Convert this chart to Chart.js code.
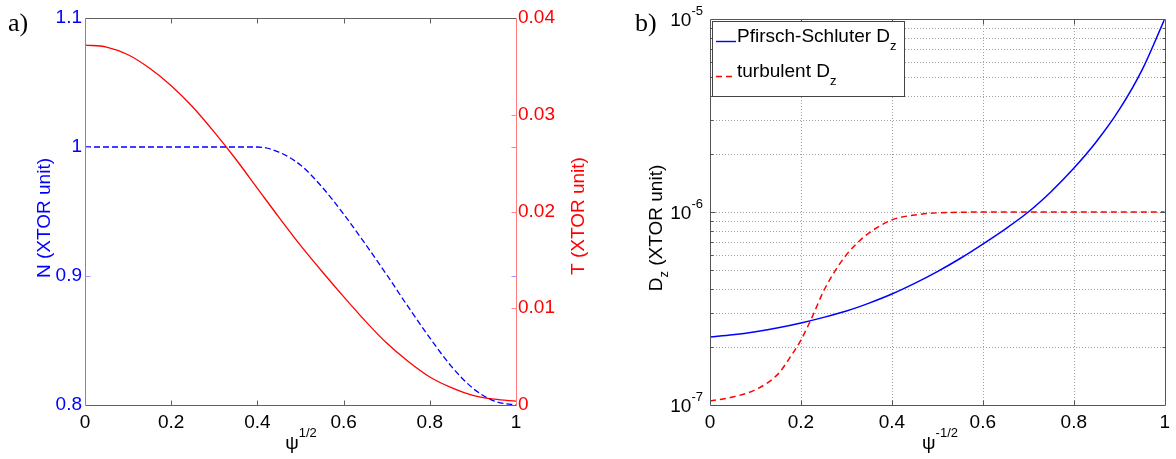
<!DOCTYPE html>
<html>
<head>
<meta charset="utf-8">
<script src="https://cdn.jsdelivr.net/npm/chart.js@4.4.1/dist/chart.umd.min.js"></script>
<style>
html,body{margin:0;padding:0;background:#fff;}
#wrap{position:relative;width:1176px;height:459px;overflow:hidden;background:#fff;}
#ca{position:absolute;left:0;top:0;}
#cb{position:absolute;left:590px;top:0;}
</style>
</head>
<body>
<div id="wrap">
<canvas id="ca" width="590" height="459"></canvas>
<canvas id="cb" width="586" height="459"></canvas>
</div>
<script>
// ---------------- DATA ----------------
// Panel a
const psiA = [0,0.05,0.1,0.15,0.2,0.25,0.3,0.35,0.4,0.45,0.5,0.55,0.6,0.65,0.7,0.75,0.8,0.85,0.9,0.95,1.0];
const densityN = [1,1,1,1,1,1,1,1,1,0.996,0.986,0.969,0.948,0.925,0.901,0.876,0.852,0.830,0.813,0.803,0.800];
const temperatureT = [0.0372,0.0370,0.0362,0.0348,0.0330,0.0308,0.0282,0.0254,0.0224,0.0194,0.0165,0.0138,0.0112,0.0087,0.0064,0.0045,0.0029,0.0018,0.0010,0.0006,0.0004];
const xTicksA = [0,0.2,0.4,0.6,0.8,1];
const nTicks = [0.8,0.9,1,1.1];
const tTicks = [0,0.01,0.02,0.03,0.04];
// Panel b
const psiB = [0,0.05,0.1,0.15,0.2,0.25,0.3,0.35,0.4,0.45,0.5,0.55,0.6,0.65,0.7,0.75,0.8,0.85,0.9,0.95,1.0];
const dPfirschSchluter = [2.249e-7,2.312e-7,2.399e-7,2.512e-7,2.661e-7,2.844e-7,3.069e-7,3.373e-7,3.758e-7,4.266e-7,4.909e-7,5.741e-7,6.823e-7,8.185e-7,1.0e-6,1.274e-6,1.683e-6,2.317e-6,3.388e-6,5.433e-6,1.0e-5];
const psiTurb = [0,0.05,0.1,0.15,0.175,0.2,0.225,0.25,0.275,0.3,0.325,0.35,0.4,0.45,0.5,0.55,0.6,0.7,0.8,0.9,1.0];
const dTurbulent = [1.05e-7,1.1e-7,1.2e-7,1.45e-7,1.75e-7,2.17e-7,2.87e-7,3.9e-7,4.95e-7,6.0e-7,6.95e-7,7.8e-7,9.1e-7,9.65e-7,9.9e-7,9.97e-7,1e-6,1e-6,1e-6,1e-6,1e-6];
const xTicksB = [0,0.2,0.4,0.6,0.8,1];
const yMajorB = [1e-7,1e-6,1e-5];
const yMinorB = [2e-7,3e-7,4e-7,5e-7,6e-7,7e-7,8e-7,9e-7,2e-6,3e-6,4e-6,5e-6,6e-6,7e-6,8e-6,9e-6];
const legendLabels = ['Pfirsch-Schluter D','turbulent D'];

// ---------------- HELPERS ----------------
const FONT = '"Liberation Sans", Arial, Helvetica, sans-serif';
const SERIF = '"Liberation Serif", "DejaVu Serif", serif';
const TICKFONT = {family: FONT, size: 19};

function seg(ctx, x1, y1, x2, y2, color, w) {
  ctx.beginPath();
  ctx.strokeStyle = color;
  ctx.lineWidth = w || 1;
  ctx.moveTo(x1, y1);
  ctx.lineTo(x2, y2);
  ctx.stroke();
}
function rich(ctx, parts, x, y, align, color) {
  let w = 0;
  parts.forEach(p => { ctx.font = p.size + 'px ' + (p.family || FONT); p.w = ctx.measureText(p.t).width; w += p.w; });
  let cx = align === 'center' ? x - w / 2 : (align === 'right' ? x - w : x);
  ctx.fillStyle = color;
  ctx.textAlign = 'left';
  ctx.textBaseline = 'alphabetic';
  parts.forEach(p => { ctx.font = p.size + 'px ' + (p.family || FONT); ctx.fillText(p.t, cx, y + (p.dy || 0)); cx += p.w; });
}
function richRot(ctx, parts, cx, cy, color) {
  ctx.save();
  ctx.translate(cx, cy);
  ctx.rotate(-Math.PI / 2);
  rich(ctx, parts, 0, 0, 'center', color);
  ctx.restore();
}
const px = v => Math.round(v) + 0.5;

// ---------------- PANEL A ----------------
const frameA = {
  id: 'frameA',
  afterDatasetsDraw(chart) {
    const ctx = chart.ctx;
    const {left, right, top, bottom} = chart.chartArea;
    const sx = chart.scales.x, sN = chart.scales.yN, sT = chart.scales.yT;
    ctx.save();
    const L = px(left), R = px(right), T = px(top), B = px(bottom);
    seg(ctx, L, T, R, T, '#606060');
    seg(ctx, L, B, R, B, '#606060');
    seg(ctx, L, T, L, B, '#7a7aff');
    seg(ctx, R, T, R, B, '#ff7a7a');
    xTicksA.forEach(v => {
      const x = px(sx.getPixelForValue(v));
      if (x <= L + 1 || x >= R - 1) return;
      seg(ctx, x, B, x, B - 5, '#606060');
      seg(ctx, x, T, x, T + 5, '#606060');
    });
    nTicks.forEach(v => {
      const y = px(sN.getPixelForValue(v));
      if (y <= T + 1 || y >= B - 1) return;
      seg(ctx, L, y, L + 5, y, '#9a9aff');
      seg(ctx, R, y, R - 5, y, '#9a9aff');
    });
    tTicks.forEach(v => {
      const y = px(sT.getPixelForValue(v));
      if (y <= T + 1 || y >= B - 1) return;
      seg(ctx, R, y, R - 5, y, '#ff8a8a');
    });
    ctx.restore();
  },
  afterDraw(chart) {
    const ctx = chart.ctx;
    ctx.save();
    rich(ctx, [{t: 'a)', size: 26, family: SERIF}], 8, 31, 'left', '#000');
    richRot(ctx, [{t: 'N (XTOR unit)', size: 19}], 50, 218, '#0000ff');
    richRot(ctx, [{t: 'T (XTOR unit)', size: 19}], 584, 216, '#ff0000');
    rich(ctx, [{t: '\u03c8', size: 19}, {t: '1/2', size: 13, dy: -12}], 301, 449, 'center', '#000');
    ctx.restore();
  }
};

new Chart(document.getElementById('ca'), {
  type: 'line',
  data: {
    datasets: [
      {
        label: 'N', yAxisID: 'yN',
        data: psiA.map((x, i) => ({x: x, y: densityN[i]})),
        borderColor: '#0000ff', borderWidth: 1.3, borderDash: [6, 3],
        pointRadius: 0, fill: false, cubicInterpolationMode: 'monotone'
      },
      {
        label: 'T', yAxisID: 'yT',
        data: psiA.map((x, i) => ({x: x, y: temperatureT[i]})),
        borderColor: '#ff0000', borderWidth: 1.3,
        pointRadius: 0, fill: false, cubicInterpolationMode: 'monotone'
      }
    ]
  },
  options: {
    responsive: false, animation: false, events: [],
    layout: {padding: {left: 0, right: 0, top: 18, bottom: 0}},
    plugins: {legend: {display: false}, tooltip: {enabled: false}, title: {display: false}},
    scales: {
      x: {
        type: 'linear', min: 0, max: 1,
        afterBuildTicks: s => { s.ticks = xTicksA.map(v => ({value: v})); },
        ticks: {color: '#000', font: TICKFONT, padding: 6, maxRotation: 0, autoSkip: false, callback: v => String(v)},
        grid: {display: false, drawTicks: false}, border: {display: false},
        afterFit: s => { s.height = 54; }
      },
      yN: {
        type: 'linear', position: 'left', min: 0.8, max: 1.1,
        afterBuildTicks: s => { s.ticks = nTicks.map(v => ({value: v})); },
        ticks: {color: '#0000ff', font: TICKFONT, padding: 3, autoSkip: false, callback: v => String(v)},
        grid: {display: false, drawTicks: false}, border: {display: false},
        afterFit: s => { s.width = 85; }
      },
      yT: {
        type: 'linear', position: 'right', min: 0, max: 0.04,
        afterBuildTicks: s => { s.ticks = tTicks.map(v => ({value: v})); },
        ticks: {color: '#ff0000', font: TICKFONT, padding: 2, autoSkip: false, callback: v => String(v)},
        grid: {display: false, drawTicks: false}, border: {display: false},
        afterFit: s => { s.width = 74; }
      }
    }
  },
  plugins: [frameA]
});

// ---------------- PANEL B ----------------
const frameB = {
  id: 'frameB',
  beforeDatasetsDraw(chart) {
    const ctx = chart.ctx;
    const {left, right, top, bottom} = chart.chartArea;
    const sx = chart.scales.x, sy = chart.scales.y;
    ctx.save();
    ctx.setLineDash([1, 2]);
    xTicksB.forEach(v => {
      const x = px(sx.getPixelForValue(v));
      if (x <= left + 1 || x >= right - 1) return;
      seg(ctx, x, top, x, bottom, '#a0a0a0');
    });
    yMajorB.concat(yMinorB).forEach(v => {
      const y = px(sy.getPixelForValue(v));
      if (y <= top + 1 || y >= bottom - 1) return;
      seg(ctx, left, y, right, y, '#a0a0a0');
    });
    ctx.restore();
  },
  afterDatasetsDraw(chart) {
    const ctx = chart.ctx;
    const {left, right, top, bottom} = chart.chartArea;
    const sx = chart.scales.x, sy = chart.scales.y;
    const L = px(left), R = px(right), T = px(top), B = px(bottom);
    ctx.save();
    const c = '#555555';
    seg(ctx, L, T, R, T, c); seg(ctx, L, B, R, B, c);
    seg(ctx, L, T, L, B, c); seg(ctx, R, T, R, B, c);
    xTicksB.forEach(v => {
      const x = px(sx.getPixelForValue(v));
      if (x <= L + 1 || x >= R - 1) return;
      seg(ctx, x, B, x, B - 5, c); seg(ctx, x, T, x, T + 5, c);
    });
    yMajorB.forEach(v => {
      const y = px(sy.getPixelForValue(v));
      if (y <= T + 1 || y >= B - 1) return;
      seg(ctx, L, y, L + 5, y, c); seg(ctx, R, y, R - 5, y, c);
    });
    yMinorB.forEach(v => {
      const y = px(sy.getPixelForValue(v));
      seg(ctx, L, y, L + 3, y, c); seg(ctx, R, y, R - 3, y, c);
    });
    // log tick labels 10^n
    yMajorB.forEach(v => {
      const y = sy.getPixelForValue(v);
      const e = Math.round(Math.log10(v));
      rich(ctx, [{t: '10', size: 19}, {t: String(e), size: 13, dy: -11}], left - 7, y + 7, 'right', '#000');
    });
    ctx.restore();
  },
  afterDraw(chart) {
    const ctx = chart.ctx;
    const ds = chart.data.datasets;
    ctx.save();
    rich(ctx, [{t: 'b)', size: 26, family: SERIF}], 45, 31, 'left', '#000');
    richRot(ctx, [{t: 'D', size: 19}, {t: 'z', size: 13, dy: 6}, {t: ' (XTOR unit)', size: 19}], 72, 228, '#000');
    rich(ctx, [{t: '\u03c8', size: 19}, {t: '-1/2', size: 13, dy: -12}], 350, 449, 'center', '#000');
    // legend
    const bx = 122.5, by = 21.5, bw = 192, bh = 75;
    ctx.fillStyle = '#fff';
    ctx.fillRect(bx, by, bw, bh);
    ctx.strokeStyle = '#444';
    ctx.lineWidth = 1;
    ctx.strokeRect(bx, by, bw, bh);
    const rows = [41, 76];
    ds.forEach((d, i) => {
      ctx.save();
      ctx.setLineDash(d.borderDash || []);
      seg(ctx, 126, rows[i] + 0.5, 146, rows[i] + 0.5, d.borderColor, 1.4);
      ctx.restore();
      rich(ctx, [{t: legendLabels[i], size: 19}, {t: 'z', size: 13, dy: 8}], 147, rows[i] + 1, 'left', '#000');
    });
    ctx.restore();
  }
};

new Chart(document.getElementById('cb'), {
  type: 'line',
  data: {
    datasets: [
      {
        label: 'Pfirsch-Schluter Dz',
        data: psiB.map((x, i) => ({x: x, y: dPfirschSchluter[i]})),
        borderColor: '#0000ff', borderWidth: 1.5,
        pointRadius: 0, fill: false, cubicInterpolationMode: 'monotone'
      },
      {
        label: 'turbulent Dz',
        data: psiTurb.map((x, i) => ({x: x, y: dTurbulent[i]})),
        borderColor: '#ff0000', borderWidth: 1.5, borderDash: [6, 4],
        pointRadius: 0, fill: false, cubicInterpolationMode: 'monotone'
      }
    ]
  },
  options: {
    responsive: false, animation: false, events: [],
    layout: {padding: {left: 0, right: 7, top: 19, bottom: 0}},
    plugins: {legend: {display: false}, tooltip: {enabled: false}, title: {display: false}},
    scales: {
      x: {
        type: 'linear', min: 0, max: 1,
        afterBuildTicks: s => { s.ticks = xTicksB.map(v => ({value: v})); },
        ticks: {color: '#000', font: TICKFONT, padding: 6, maxRotation: 0, autoSkip: false, callback: v => String(v)},
        grid: {display: false, drawTicks: false}, border: {display: false},
        afterFit: s => { s.height = 54; }
      },
      y: {
        type: 'logarithmic', position: 'left', min: 1e-7, max: 1e-5,
        ticks: {display: false},
        grid: {display: false, drawTicks: false}, border: {display: false},
        afterFit: s => { s.width = 120; }
      }
    }
  },
  plugins: [frameB]
});
</script>
</body>
</html>
